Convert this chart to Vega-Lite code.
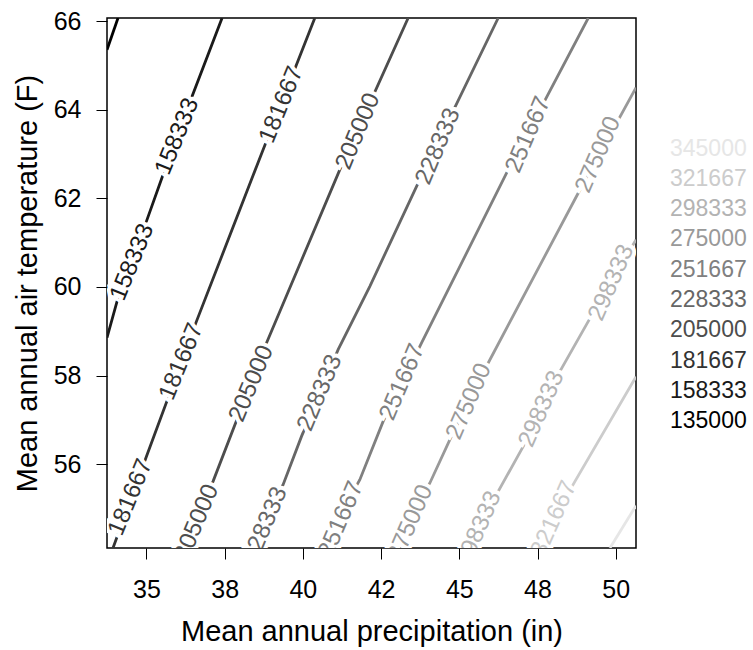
{
  "$schema": "https://vega.github.io/schema/vega-lite/v6.json",
  "autosize": {"type": "none"},
  "width": 529,
  "height": 530,
  "padding": {"left": 107, "top": 18, "right": 117, "bottom": 102},
  "background": "white",
  "config": {
    "view": {"stroke": "black", "strokeWidth": 1.5},
    "font": "Liberation Sans",
    "axis": {
      "domain": false, "grid": false, "tickColor": "black", "tickWidth": 1, "tickSize": 11,
      "labelColor": "black", "labelFont": "Liberation Sans", "labelFontSize": 25,
      "titleFont": "Liberation Sans", "titleFontSize": 29, "titleFontWeight": "normal", "titleColor": "black"
    }
  },
  "datasets": {
    "lines": [
      {"level": "135000", "x": 34.092, "y": 66.076},
      {"level": "135000", "x": 33.740, "y": 65.360},
      {"level": "158333", "x": 37.418, "y": 66.076},
      {"level": "158333", "x": 36.439, "y": 64.269},
      {"level": "158333", "x": 35.531, "y": 62.537},
      {"level": "158333", "x": 35.000, "y": 61.482},
      {"level": "158333", "x": 34.092, "y": 59.752},
      {"level": "158333", "x": 33.740, "y": 58.855},
      {"level": "181667", "x": 40.382, "y": 66.076},
      {"level": "181667", "x": 38.729, "y": 63.101},
      {"level": "181667", "x": 36.599, "y": 59.223},
      {"level": "181667", "x": 35.000, "y": 56.173},
      {"level": "181667", "x": 33.932, "y": 54.104},
      {"level": "205000", "x": 43.366, "y": 66.076},
      {"level": "205000", "x": 41.182, "y": 62.650},
      {"level": "205000", "x": 38.838, "y": 58.735},
      {"level": "205000", "x": 37.130, "y": 55.609},
      {"level": "205000", "x": 36.225, "y": 54.104},
      {"level": "228333", "x": 46.244, "y": 66.076},
      {"level": "228333", "x": 43.635, "y": 62.272},
      {"level": "228333", "x": 42.141, "y": 60.014},
      {"level": "228333", "x": 41.127, "y": 58.584},
      {"level": "228333", "x": 39.957, "y": 56.625},
      {"level": "228333", "x": 39.368, "y": 55.534},
      {"level": "228333", "x": 38.463, "y": 54.104},
      {"level": "251667", "x": 49.122, "y": 66.076},
      {"level": "251667", "x": 46.513, "y": 62.575},
      {"level": "251667", "x": 43.794, "y": 58.735},
      {"level": "251667", "x": 42.566, "y": 56.964},
      {"level": "251667", "x": 41.821, "y": 55.647},
      {"level": "251667", "x": 40.606, "y": 54.104},
      {"level": "275000", "x": 50.648, "y": 64.502},
      {"level": "275000", "x": 48.802, "y": 62.123},
      {"level": "275000", "x": 45.924, "y": 58.283},
      {"level": "275000", "x": 44.699, "y": 56.551},
      {"level": "275000", "x": 44.060, "y": 55.573},
      {"level": "275000", "x": 42.877, "y": 54.104},
      {"level": "298333", "x": 50.648, "y": 61.068},
      {"level": "298333", "x": 49.122, "y": 59.223},
      {"level": "298333", "x": 48.217, "y": 58.094},
      {"level": "298333", "x": 47.044, "y": 56.399},
      {"level": "298333", "x": 46.244, "y": 55.383},
      {"level": "298333", "x": 45.275, "y": 54.104},
      {"level": "321667", "x": 50.648, "y": 57.974},
      {"level": "321667", "x": 48.697, "y": 55.609},
      {"level": "321667", "x": 47.482, "y": 54.104},
      {"level": "345000", "x": 50.648, "y": 55.060},
      {"level": "345000", "x": 49.816, "y": 54.104}
    ],
    "labels": [
      {"level": "158333", "x": 35.985, "y": 63.402},
      {"level": "158333", "x": 34.546, "y": 60.560},
      {"level": "181667", "x": 39.317, "y": 64.118},
      {"level": "181667", "x": 36.119, "y": 58.313},
      {"level": "181667", "x": 34.492, "y": 55.252},
      {"level": "205000", "x": 41.767, "y": 63.515},
      {"level": "205000", "x": 38.358, "y": 57.816},
      {"level": "205000", "x": 36.609, "y": 54.676},
      {"level": "228333", "x": 44.325, "y": 63.176},
      {"level": "228333", "x": 40.542, "y": 57.606},
      {"level": "228333", "x": 38.799, "y": 54.622},
      {"level": "251667", "x": 47.204, "y": 63.440},
      {"level": "251667", "x": 43.180, "y": 57.850},
      {"level": "251667", "x": 41.223, "y": 54.744},
      {"level": "275000", "x": 49.442, "y": 62.989},
      {"level": "275000", "x": 45.313, "y": 57.416},
      {"level": "275000", "x": 43.436, "y": 54.671},
      {"level": "298333", "x": 49.864, "y": 60.097},
      {"level": "298333", "x": 47.632, "y": 57.246},
      {"level": "298333", "x": 45.621, "y": 54.529},
      {"level": "321667", "x": 48.025, "y": 54.766}
    ]
  },
  "encoding": {
    "x": {
      "field": "x", "type": "quantitative",
      "scale": {"domain": [33.74, 50.648], "nice": false, "zero": false},
      "axis": {
        "values": [35, 37.5, 40, 42.5, 45, 47.5, 50],
        "labelExpr": "datum.value == 37.5 ? '38' : datum.value == 42.5 ? '42' : datum.value == 47.5 ? '48' : datum.label",
        "labelPadding": 18, "titlePadding": 15,
        "title": "Mean annual precipitation (in)"
      }
    },
    "y": {
      "field": "y", "type": "quantitative",
      "scale": {"domain": [54.104, 66.076], "nice": false, "zero": false},
      "axis": {
        "values": [56, 58, 60, 62, 64, 66],
        "labelPadding": 15, "titlePadding": 11,
        "title": "Mean annual air temperature (F)"
      }
    }
  },
  "layer": [
    {
      "data": {"name": "lines"},
      "mark": {"type": "line", "strokeWidth": 2.8, "clip": true},
      "encoding": {
        "detail": {"field": "level"},
        "color": {
          "field": "level", "type": "ordinal",
          "scale": {
            "domain": ["345000", "321667", "298333", "275000", "251667", "228333", "205000", "181667", "158333", "135000"],
            "range": ["#e6e6e6", "#cccccc", "#b3b3b3", "#999999", "#808080", "#666666", "#4d4d4d", "#333333", "#1a1a1a", "#000000"]
          },
          "legend": {
            "title": null, "orient": "none", "legendX": 540, "legendY": 119,
            "symbolType": "circle", "symbolOpacity": 0, "symbolSize": 0, "symbolStrokeWidth": 0,
            "labelFontSize": 23, "labelFont": "Liberation Sans", "labelOffset": 0,
            "rowPadding": 6.3, "padding": 0, "labelLimit": 300,
            "encode": {"labels": {"update": {"fill": {"scale": "color", "field": "value"}}}}
          }
        }
      }
    },
    {
      "data": {"name": "labels"},
      "mark": {"type": "text", "fontSize": 24, "font": "Liberation Sans", "align": "center", "baseline": "middle", "clip": true, "fill": "white", "stroke": "white", "strokeWidth": 8},
      "encoding": {
        "text": {"field": "level"},
        "angle": {
          "field": "level", "type": "ordinal", "legend": null,
          "scale": {
            "domain": ["158333", "181667", "205000", "228333", "251667", "275000", "298333", "321667"],
            "range": [-68, -66, -66, -64, -63, -62, -62, -60]
          }
        }
      }
    },
    {
      "data": {"name": "labels"},
      "mark": {"type": "text", "fontSize": 24, "font": "Liberation Sans", "align": "center", "baseline": "middle", "clip": true},
      "encoding": {
        "text": {"field": "level"},
        "color": {"field": "level", "type": "ordinal"},
        "angle": {
          "field": "level", "type": "ordinal", "legend": null,
          "scale": {
            "domain": ["158333", "181667", "205000", "228333", "251667", "275000", "298333", "321667"],
            "range": [-68, -66, -66, -64, -63, -62, -62, -60]
          }
        }
      }
    }
  ]
}
